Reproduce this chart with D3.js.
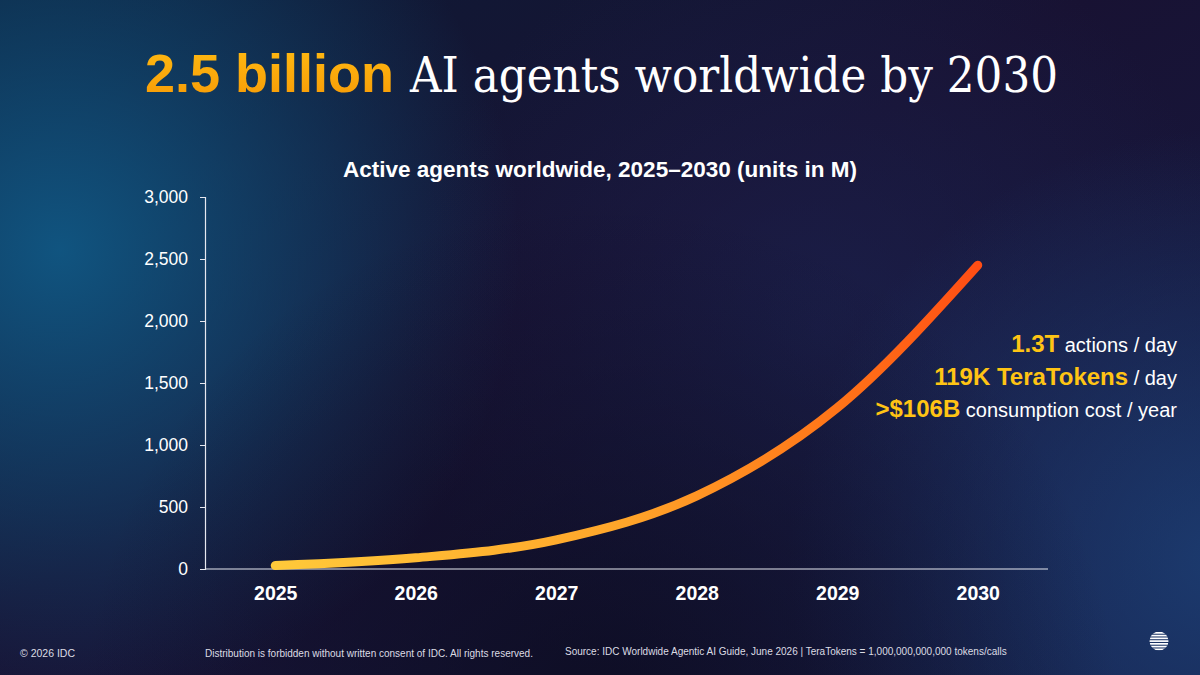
<!DOCTYPE html>
<html>
<head>
<meta charset="utf-8">
<script src="https://cdn.jsdelivr.net/npm/d3@7"></script>
<style>
  html, body { margin: 0; padding: 0; background: #12112b; }
  svg { display: block; }
</style>
</head>
<body>
<svg id="chart"></svg>
<script>
// data
const years = ["2025", "2026", "2027", "2028", "2029", "2030"];
const agents = [28, 90, 235, 590, 1300, 2450];
const yTicks = [0, 500, 1000, 1500, 2000, 2500, 3000];
const callouts = [
  { big: "1.3T", small: " actions / day" },
  { big: "119K TeraTokens", small: " / day" },
  { big: ">$106B", small: " consumption cost / year" }
];

const W = 1200, H = 675;
const svg = d3.select("#chart")
  .attr("width", W)
  .attr("height", H)
  .attr("viewBox", [0, 0, W, H]);

const defs = svg.append("defs");

// background glows
const bgBase = defs.append("linearGradient").attr("id", "bgBase")
  .attr("x1", 0).attr("y1", 0).attr("x2", 1).attr("y2", 1);
bgBase.append("stop").attr("offset", 0).attr("stop-color", "#0d1b35");
bgBase.append("stop").attr("offset", 0.45).attr("stop-color", "#181233");
bgBase.append("stop").attr("offset", 1).attr("stop-color", "#161c45");

function glow(id, cx, cy, r, color, op) {
  const g = defs.append("radialGradient").attr("id", id)
    .attr("gradientUnits", "userSpaceOnUse")
    .attr("cx", cx).attr("cy", cy).attr("r", r);
  g.append("stop").attr("offset", 0).attr("stop-color", color).attr("stop-opacity", op);
  g.append("stop").attr("offset", 1).attr("stop-color", color).attr("stop-opacity", 0);
}
glow("gBlue", 60, 250, 460, "#105b88", 0.9);
glow("gRight", 1220, 560, 430, "#1d4279", 0.8);
glow("gMid", 820, 330, 420, "#1c2452", 0.6);
glow("gBottom", 600, 720, 520, "#0b0a1c", 0.75);

svg.append("rect").attr("width", W).attr("height", H).attr("fill", "url(#bgBase)");
["gBlue", "gMid", "gRight", "gBottom"].forEach(id =>
  svg.append("rect").attr("width", W).attr("height", H).attr("fill", `url(#${id})`));

// title
const titleGrad = defs.append("linearGradient").attr("id", "titleGrad")
  .attr("x1", 0).attr("y1", 0).attr("x2", 0).attr("y2", 1);
titleGrad.append("stop").attr("offset", 0).attr("stop-color", "#ffbb12");
titleGrad.append("stop").attr("offset", 1).attr("stop-color", "#f79a06");

const title = svg.append("text").attr("x", 145).attr("y", 92);
title.append("tspan")
  .attr("font-family", "Liberation Sans, Arial, sans-serif")
  .attr("font-weight", "bold")
  .attr("font-size", 54)
  .attr("fill", "url(#titleGrad)")
  .text("2.5 billion");
title.append("tspan")
  .attr("x", 410)
  .attr("font-family", "DejaVu Serif, Georgia, serif")
  .attr("font-size", 48)
  .attr("fill", "#ffffff")
  .attr("textLength", 648)
  .attr("lengthAdjust", "spacingAndGlyphs")
  .text("AI agents worldwide by 2030");

svg.append("text")
  .attr("x", 600).attr("y", 177)
  .attr("text-anchor", "middle")
  .attr("font-family", "Liberation Sans, Arial, sans-serif")
  .attr("font-weight", "bold")
  .attr("font-size", 22.5)
  .attr("fill", "#ffffff")
  .text("Active agents worldwide, 2025\u20132030 (units in M)");

// scales
const x = d3.scalePoint().domain(years).range([205, 1048]).padding(0.5);
const y = d3.scaleLinear().domain([0, 3000]).range([569, 197]);

// y axis
const yAxis = svg.append("g")
  .attr("transform", "translate(205,0)")
  .call(d3.axisLeft(y).tickValues(yTicks).tickSize(5).tickPadding(12)
    .tickFormat(d3.format(",")));
yAxis.select(".domain").attr("stroke", "#e6e8f0").attr("stroke-width", 1.2);
yAxis.selectAll(".tick line").attr("stroke", "#e6e8f0");
yAxis.selectAll(".tick text")
  .attr("fill", "#ffffff")
  .attr("font-family", "Liberation Sans, Arial, sans-serif")
  .attr("font-size", 17.5);

// x axis
const xAxis = svg.append("g")
  .attr("transform", "translate(0,569)")
  .call(d3.axisBottom(x).tickSize(0).tickPadding(17));
xAxis.select(".domain").attr("stroke", "#e6e8f0").attr("stroke-width", 1.2)
  .attr("d", "M205,0H1048");
xAxis.selectAll(".tick text")
  .attr("fill", "#ffffff")
  .attr("font-family", "Liberation Sans, Arial, sans-serif")
  .attr("font-weight", "bold")
  .attr("font-size", 19.5);

// the curve
const lineGrad = defs.append("linearGradient").attr("id", "lineGrad")
  .attr("gradientUnits", "userSpaceOnUse")
  .attr("x1", x(years[0])).attr("y1", 0)
  .attr("x2", x(years[years.length - 1])).attr("y2", 0);
lineGrad.append("stop").attr("offset", 0).attr("stop-color", "#ffc93a");
lineGrad.append("stop").attr("offset", 0.5).attr("stop-color", "#ffa52a");
lineGrad.append("stop").attr("offset", 0.8).attr("stop-color", "#ff7418");
lineGrad.append("stop").attr("offset", 1).attr("stop-color", "#ff4d14");

const line = d3.line()
  .x((d, i) => x(years[i]))
  .y(d => y(d))
  .curve(d3.curveMonotoneX);

svg.append("path")
  .datum(agents)
  .attr("fill", "none")
  .attr("stroke", "url(#lineGrad)")
  .attr("stroke-width", 9)
  .attr("stroke-linecap", "round")
  .attr("d", line);

// callouts on the right
svg.append("g")
  .selectAll("text")
  .data(callouts)
  .join("text")
  .attr("x", 1177)
  .attr("y", (d, i) => 352 + i * 32.5)
  .attr("text-anchor", "end")
  .attr("font-family", "Liberation Sans, Arial, sans-serif")
  .each(function(d) {
    const t = d3.select(this);
    t.append("tspan").attr("font-weight", "bold").attr("font-size", 24)
      .attr("fill", "#ffc414").text(d.big);
    t.append("tspan").attr("font-size", 20).attr("fill", "#ffffff")
      .text(d.small);
  });

// footer
const foot = svg.append("g")
  .attr("font-family", "Liberation Sans, Arial, sans-serif")
  .attr("font-size", 10)
  .attr("fill", "#dcdce4");
foot.append("text").attr("x", 20).attr("y", 657).attr("font-size", 10.5)
  .text("\u00a9 2026 IDC");
foot.append("text").attr("x", 205).attr("y", 657)
  .text("Distribution is forbidden without written consent of IDC. All rights reserved.");
foot.append("text").attr("x", 565).attr("y", 655)
  .text("Source: IDC Worldwide Agentic AI Guide, June 2026 | TeraTokens = 1,000,000,000,000 tokens/calls");

// IDC globe mark
const logo = svg.append("g").attr("transform", "translate(1159,641)");
defs.append("clipPath").attr("id", "logoClip")
  .append("circle").attr("r", 9.5);
logo.append("g").attr("clip-path", "url(#logoClip)")
  .selectAll("rect")
  .data(d3.range(-9, 10, 2.75))
  .join("rect")
  .attr("x", -10).attr("width", 20)
  .attr("y", d => d).attr("height", 1.7)
  .attr("fill", "#ffffff");
</script>
</body>
</html>
